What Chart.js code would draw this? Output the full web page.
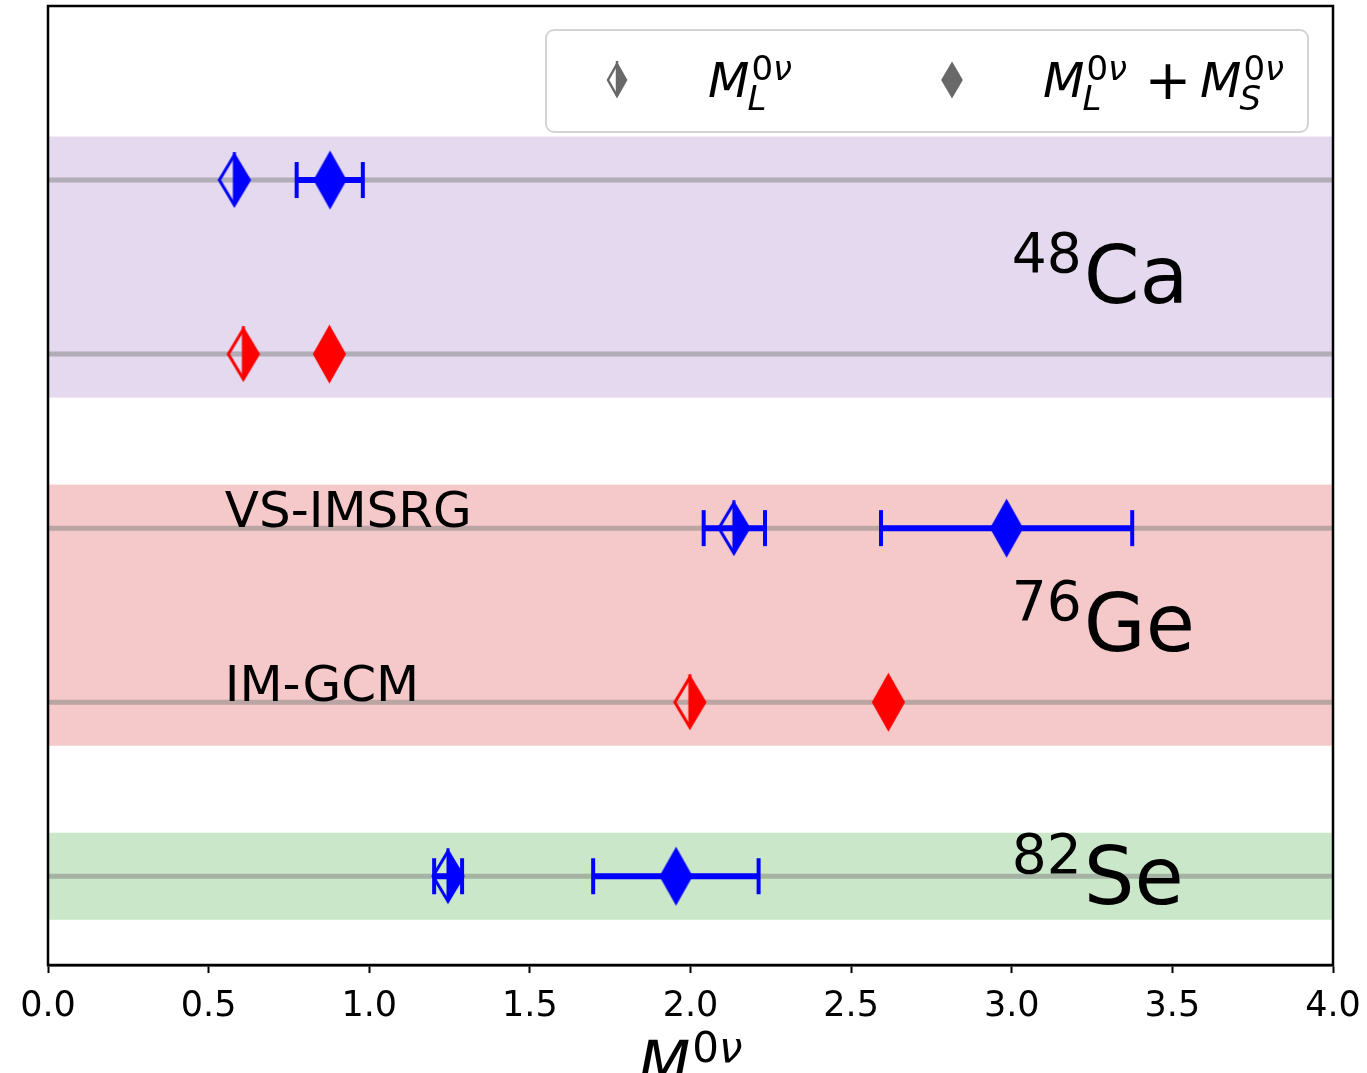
<!DOCTYPE html>
<html>
<head>
<meta charset="utf-8">
<script src="https://cdn.jsdelivr.net/npm/chart.js@4.4.1/dist/chart.umd.min.js"></script>
<style>
  html, body { margin: 0; padding: 0; background: #fff; }
  #wrap { width: 1367px; height: 1073px; position: relative; }
</style>
</head>
<body>
<div id="wrap"><canvas id="chart"></canvas></div>
<script>
// rows on the y axis, top to bottom: Ca VS-IMSRG, Ca IM-GCM, Ge VS-IMSRG, Ge IM-GCM, Se VS-IMSRG
const rowPos    = [4, 3, 2, 1, 0];
const rowMethod = ['VS-IMSRG', 'IM-GCM', 'VS-IMSRG', 'IM-GCM', 'VS-IMSRG'];

// M_L^0v (long range only)
const mL      = [0.580, 0.608, 2.135, 1.998, 1.245];
const mLErrLo = [null,  null,  2.041, null,  1.202];
const mLErrHi = [null,  null,  2.232, null,  1.289];

// M_L^0v + M_S^0v
const mLS      = [0.878, 0.876, 2.984, 2.616, 1.955];
const mLSErrLo = [0.774, null,  2.593, null,  1.697];
const mLSErrHi = [0.980, null,  3.375, null,  2.212];

// isotope bands
const isoMass   = ['48', '76', '82'];
const isoSymbol = ['Ca', 'Ge', 'Se'];
const isoLow    = [2.75, 0.75, -0.25];
const isoHigh   = [4.25, 2.25, 0.25];
const isoLabelY = [3.5, 1.5, 0.05];

const methodNames = ['VS-IMSRG', 'IM-GCM'];
const methodRow   = [2, 1];

const xTickLabels = ['0.0', '0.5', '1.0', '1.5', '2.0', '2.5', '3.0', '3.5', '4.0'];

const COLORS = { 'VS-IMSRG': '#0000ff', 'IM-GCM': '#ff0000' };
const BAND_COLORS = ['rgba(148,103,189,0.25)', 'rgba(214,39,40,0.25)', 'rgba(44,160,44,0.25)'];
const FONT = '"DejaVu Sans", sans-serif';

// thin diamond marker, optionally only the right half filled
function diamond(color, w, h, half, lw) {
  const pad = 8;
  const c = document.createElement('canvas');
  c.width = w + pad * 2;
  c.height = h + pad * 2;
  const g = c.getContext('2d');
  const cx = c.width / 2, cy = c.height / 2;
  g.fillStyle = color;
  g.strokeStyle = color;
  g.lineWidth = lw;
  g.lineJoin = 'miter';
  g.beginPath();
  if (half) {
    g.moveTo(cx, cy - h / 2); g.lineTo(cx + w / 2, cy); g.lineTo(cx, cy + h / 2);
  } else {
    g.moveTo(cx, cy - h / 2); g.lineTo(cx + w / 2, cy); g.lineTo(cx, cy + h / 2); g.lineTo(cx - w / 2, cy);
  }
  g.closePath();
  g.fill();
  g.beginPath();
  g.moveTo(cx, cy - h / 2); g.lineTo(cx + w / 2, cy); g.lineTo(cx, cy + h / 2); g.lineTo(cx - w / 2, cy);
  g.closePath();
  g.stroke();
  if (half) {
    g.beginPath(); g.moveTo(cx, cy - h / 2 - 3); g.lineTo(cx, cy + h / 2); g.stroke();
  }
  return c;
}

const halfImg = {}, fullImg = {};
methodNames.forEach(m => {
  halfImg[m] = diamond(COLORS[m], 30, 50, true, 3);
  fullImg[m] = diamond(COLORS[m], 31, 55, false, 2);
});
const legHalf = diamond('#696969', 18, 32, true, 2.5);
const legFull = diamond('#696969', 20, 34, false, 1.5);

const datasets = [];
rowPos.forEach(r => datasets.push({
  data: [{ x: 0, y: r }, { x: 4, y: r }], showLine: true,
  borderColor: 'rgba(128,128,128,0.5)', borderWidth: 5, pointRadius: 0, order: 3
}));

function addErr(lo, hi) {
  lo.forEach((v, i) => {
    if (v == null) return;
    const col = COLORS[rowMethod[i]];
    datasets.push({
      data: [{ x: v, y: rowPos[i] }, { x: hi[i], y: rowPos[i] }], showLine: true,
      borderColor: col, borderWidth: 6, pointStyle: 'line', rotation: 90,
      pointRadius: 18, pointBorderWidth: 4, pointBorderColor: col, order: 2
    });
  });
}
addErr(mLErrLo, mLErrHi);
addErr(mLSErrLo, mLSErrHi);

methodNames.forEach(m => {
  const idx = rowPos.map((_, i) => i).filter(i => rowMethod[i] === m);
  datasets.push({
    label: 'M_L ' + m, data: idx.map(i => ({ x: mL[i], y: rowPos[i] })),
    pointStyle: halfImg[m], pointRadius: 12, order: 0
  });
  datasets.push({
    label: 'M_L+M_S ' + m, data: idx.map(i => ({ x: mLS[i], y: rowPos[i] })),
    pointStyle: fullImg[m], pointRadius: 12, order: 0
  });
});

// italic M with superscript 0v and optional subscript, returns right edge
function mathM(ctx, x, base, sub, size) {
  const s = size || 48, ss = Math.round(s * 0.7);
  ctx.textAlign = 'left';
  ctx.textBaseline = 'alphabetic';
  ctx.font = 'italic ' + s + 'px ' + FONT;
  ctx.fillText('M', x, base);
  const xs = x + ctx.measureText('M').width + 2;
  const up = s * 0.36, down = s * 0.27;
  ctx.font = ss + 'px ' + FONT;
  ctx.fillText('0', xs, base - up);
  const w0 = ctx.measureText('0').width;
  ctx.font = 'italic ' + ss + 'px ' + FONT;
  ctx.fillText('\u03bd', xs + w0, base - up);
  const supW = w0 + ctx.measureText('\u03bd').width;
  let subW = 0;
  if (sub) {
    ctx.fillText(sub, xs - 4, base + down);
    subW = ctx.measureText(sub).width - 4;
  }
  return xs + Math.max(supW, subW);
}

const decor = {
  id: 'decor',
  beforeDatasetsDraw(chart) {
    const { ctx, chartArea: a, scales: { y } } = chart;
    ctx.save();
    isoLow.forEach((lo, i) => {
      const top = y.getPixelForValue(isoHigh[i]);
      const bot = y.getPixelForValue(lo);
      ctx.fillStyle = BAND_COLORS[i];
      ctx.fillRect(a.left, top, a.right - a.left, bot - top);
    });
    ctx.restore();
  },
  afterDatasetsDraw(chart) {
    const { ctx, scales: { x, y } } = chart;
    ctx.save();
    ctx.fillStyle = '#000';
    ctx.textBaseline = 'alphabetic';
    ctx.textAlign = 'left';
    // method names
    ctx.font = '50px ' + FONT;
    methodNames.forEach((m, i) => {
      ctx.fillText(m, x.getPixelForValue(0.55), y.getPixelForValue(methodRow[i]) - 1);
    });
    // isotope labels
    isoMass.forEach((mass, i) => {
      const base = y.getPixelForValue(isoLabelY[i]) + 36;
      const x0 = x.getPixelForValue(3.0);
      ctx.font = '55px ' + FONT;
      ctx.fillText(mass, x0, base - 31);
      const w = ctx.measureText(mass).width;
      ctx.font = '80px ' + FONT;
      ctx.fillText(isoSymbol[i], x0 + w + 2, base);
    });
    ctx.restore();
  },
  afterDraw(chart) {
    const { ctx, chartArea: a } = chart;
    ctx.save();
    // frame
    ctx.strokeStyle = '#000';
    ctx.lineWidth = 2.5;
    ctx.strokeRect(a.left, a.top, a.right - a.left, a.bottom - a.top);

    // legend
    const bx = a.right - 787, by = a.top + 24, bw = 762, bh = 102, r = 8;
    ctx.beginPath();
    ctx.roundRect(bx, by, bw, bh, r);
    ctx.fillStyle = 'rgba(255,255,255,0.85)';
    ctx.fill();
    ctx.strokeStyle = '#d4d4d4';
    ctx.lineWidth = 2;
    ctx.stroke();
    const my = by + 50;
    ctx.drawImage(legHalf, bx + 71 - legHalf.width / 2, my - legHalf.height / 2);
    ctx.drawImage(legFull, bx + 406 - legFull.width / 2, my - legFull.height / 2);
    ctx.fillStyle = '#000';
    const base = by + 67;
    mathM(ctx, bx + 162, base, 'L');
    mathM(ctx, bx + 497, base, 'L');
    ctx.font = '56px ' + FONT;
    ctx.textAlign = 'center';
    ctx.fillText('+', bx + 622, base + 2);
    mathM(ctx, bx + 654, base, 'S');

    // x axis title
    const cx = (a.left + a.right) / 2;
    mathM(ctx, cx - 52, a.bottom + 119, null, 60);
    ctx.restore();
  }
};

new Chart(document.getElementById('chart'), {
  type: 'scatter',
  data: { datasets: datasets },
  options: {
    responsive: true,
    maintainAspectRatio: false,
    animation: false,
    events: [],
    layout: { autoPadding: false, padding: { left: 48, right: 34, top: 6, bottom: 0 } },
    plugins: { legend: { display: false }, tooltip: { enabled: false } },
    scales: {
      x: {
        type: 'linear', min: 0, max: 4,
        afterFit: s => { s.height = 108; s.paddingLeft = 0; s.paddingRight = 0; },
        border: { display: true, color: '#000', width: 2.5 },
        grid: { drawOnChartArea: false, drawTicks: true, tickLength: 8, tickColor: '#000', tickWidth: 2 },
        ticks: {
          stepSize: 0.5, autoSkip: false, maxRotation: 0, padding: 13, color: '#000',
          font: { family: FONT, size: 35 },
          callback: (v, i) => xTickLabels[i]
        }
      },
      y: { type: 'linear', min: -0.51, max: 5.0, display: false }
    }
  },
  plugins: [decor]
});
</script>
</body>
</html>
